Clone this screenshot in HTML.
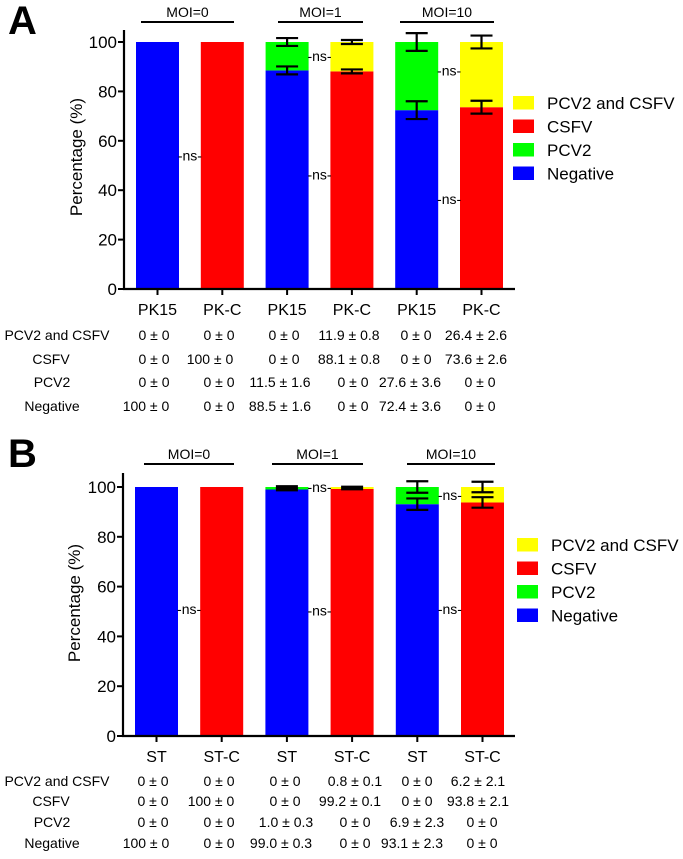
<!DOCTYPE html>
<html><head><meta charset="utf-8"><style>
body{margin:0;background:#fff;}
svg text{font-family:"Liberation Sans",Arial,sans-serif;fill:#000;}
</style></head><body>
<svg id="fig" width="683" height="854" viewBox="0 0 683 854" xmlns="http://www.w3.org/2000/svg"></svg>
<script>
// ---- Data ----
const seriesNames = ["Negative","PCV2","CSFV","PCV2 and CSFV"];
const seriesColors = ["#0000ff","#00ff00","#ff0000","#ffff00"];
const yTicks = [0,20,40,60,80,100];
const catsA = ["PK15","PK-C","PK15","PK-C","PK15","PK-C"];
const negA  = [100,0,88.5,0,72.4,0];
const negSdA= [0,0,1.6,0,3.6,0];
const pcvA  = [0,0,11.5,0,27.6,0];
const pcvSdA= [0,0,1.6,0,3.6,0];
const csfA  = [0,100,0,88.1,0,73.6];
const csfSdA= [0,0,0,0.8,0,2.6];
const bothA = [0,0,0,11.9,0,26.4];
const bothSdA=[0,0,0,0.8,0,2.6];
const nsA   = [53.6,46,94,36,88];
const nsGapA= [0,2,2,4,4];

const catsB = ["ST","ST-C","ST","ST-C","ST","ST-C"];
const negB  = [100,0,99.0,0,93.1,0];
const negSdB= [0,0,0.3,0,2.3,0];
const pcvB  = [0,0,1.0,0,6.9,0];
const pcvSdB= [0,0,0.3,0,2.3,0];
const csfB  = [0,100,0,99.2,0,93.8];
const csfSdB= [0,0,0,0.1,0,2.1];
const bothB = [0,0,0,0.8,0,6.2];
const bothSdB=[0,0,0,0.1,0,2.1];
const nsB   = [50.6,50,99.6,50.6,96.4];
const nsGapB= [0,2,2,4,4];

const tableRows = ["PCV2 and CSFV","CSFV","PCV2","Negative"];
const tableA = [["0 ± 0","0 ± 0","0 ± 0","11.9 ± 0.8","0 ± 0","26.4 ± 2.6"],
                ["0 ± 0","100 ± 0","0 ± 0","88.1 ± 0.8","0 ± 0","73.6 ± 2.6"],
                ["0 ± 0","0 ± 0","11.5 ± 1.6","0 ± 0","27.6 ± 3.6","0 ± 0"],
                ["100 ± 0","0 ± 0","88.5 ± 1.6","0 ± 0","72.4 ± 3.6","0 ± 0"]];
const tableB = [["0 ± 0","0 ± 0","0 ± 0","0.8 ± 0.1","0 ± 0","6.2 ± 2.1"],
                ["0 ± 0","100 ± 0","0 ± 0","99.2 ± 0.1","0 ± 0","93.8 ± 2.1"],
                ["0 ± 0","0 ± 0","1.0 ± 0.3","0 ± 0","6.9 ± 2.3","0 ± 0"],
                ["100 ± 0","0 ± 0","99.0 ± 0.3","0 ± 0","93.1 ± 2.3","0 ± 0"]];
const moiLabels = ["MOI=0","MOI=1","MOI=10"];

// ---- Drawing ----
const NS="http://www.w3.org/2000/svg";
const svg=document.getElementById('fig');
function el(tag,attrs,parent,text){const e=document.createElementNS(NS,tag);for(const k in attrs)e.setAttribute(k,attrs[k]);if(text!==undefined)e.textContent=text;(parent||svg).appendChild(e);return e;}

function panel(cfg){
  const g=el('g',{});
  
  
  const y=v=>cfg.y0-(v/100)*(cfg.y0-cfg.y100);
  const xc=i=>cfg.x0+cfg.pitch*i;
  const bw=43;
  const L=el('text',{x:cfg.letterX,y:cfg.letterY,'font-size':40,'font-weight':'bold'},g,cfg.letter);
  
  
  cfg.moi.forEach((m,i)=>{
    const ln=el('line',{x1:m[0],x2:m[1],y1:cfg.moiY,y2:cfg.moiY,stroke:'#000','stroke-width':2},g);
    
    
    const t=el('text',{x:(m[0]+m[1])/2,y:cfg.moiY-5,'font-size':14,'text-anchor':'middle'},g,moiLabels[i]);
    
    
  });
  const segs=[cfg.neg,cfg.pcv,cfg.csf,cfg.both];
  const sds=[cfg.negSd,cfg.pcvSd,cfg.csfSd,cfg.bothSd];
  for(let i=0;i<6;i++){
    let cum=0;
    segs.forEach((s,k)=>{
      if(s[i]<=0)return;
      const r=el('rect',{x:xc(i)-bw/2,y:y(cum+s[i]),width:bw,height:y(cum)-y(cum+s[i]),fill:seriesColors[k]},g);
      
      
      cum+=s[i];
    });
    cum=0;
    segs.forEach((s,k)=>{
      if(s[i]<=0)return;
      cum+=s[i];
      const sd=sds[k][i];
      if(sd>0){
        const eb=el('path',{d:`M${xc(i)},${y(cum-sd)}V${y(cum+sd)}M${xc(i)-11},${y(cum-sd)}H${xc(i)+11}M${xc(i)-11},${y(cum+sd)}H${xc(i)+11}`,stroke:'#000','stroke-width':2.2,fill:'none'},g);
        
        
      }
    });
  }
  cfg.ns.forEach((v,j)=>{
    const gx=xc(cfg.nsGap[j])+cfg.pitch/2;
    const t=el('text',{x:gx,y:y(v)+4,'font-size':14,'text-anchor':'middle'},g,'-ns-');
    
    
  });
  const ax=el('path',{d:`M${cfg.ax},${cfg.axTop}V${cfg.y0}H${cfg.axEnd}`,stroke:'#000','stroke-width':2.2,fill:'none'},g);
  
  
  yTicks.forEach(v=>{
    const tk=el('line',{x1:cfg.ax-6,x2:cfg.ax,y1:y(v),y2:y(v),stroke:'#000','stroke-width':2},g);
    
    
    const t=el('text',{x:cfg.ax-7,y:y(v)+6,'font-size':17,'text-anchor':'end'},g,String(v));
    
    
  });
  cfg.cats.forEach((c,i)=>{
    const tk=el('line',{x1:xc(i),x2:xc(i),y1:cfg.y0,y2:cfg.y0+6,stroke:'#000','stroke-width':2},g);
    
    
    const t=el('text',{x:xc(i),y:cfg.y0+26,'font-size':16,'text-anchor':'middle'},g,c);
    
    
  });
  const yl=el('text',{x:0,y:0,'font-size':17,'text-anchor':'middle',transform:`translate(${cfg.ylX},${cfg.ylY}) rotate(-90)`},g,'Percentage (%)');
  
  
  [3,2,1,0].forEach((k,j)=>{
    const ly=cfg.legY+j*23.5;
    const r=el('rect',{x:cfg.legX,y:ly,width:21,height:13.5,fill:seriesColors[k]},g);
    
    
    const t=el('text',{x:cfg.legX+34,y:ly+13,'font-size':17},g,seriesNames[k]);
    
    
  });
  const labX=[57,51,52,52];
  tableRows.forEach((rn,r)=>{
    const ry=cfg.tabY[r];
    const t=el('text',{x:labX[r],y:ry+5,'font-size':14,'text-anchor':'middle'},g,rn);
    
    
    cfg.table[r].forEach((v,c)=>{
      const tc=el('text',{x:cfg.tabX[r][c],y:ry+5,'font-size':14,'text-anchor':'middle'},g,v);
      
      
    });
  });
}

panel({name:'panel-a',letter:'A',letterX:8,letterY:34,y0:289,y100:42,x0:157.5,pitch:64.8,ax:124,axTop:30,axEnd:515,
  moi:[[141,234],[278,363],[400,494]],moiY:22,
  neg:negA,negSd:negSdA,pcv:pcvA,pcvSd:pcvSdA,csf:csfA,csfSd:csfSdA,both:bothA,bothSd:bothSdA,ns:nsA,nsGap:nsGapA,cats:catsA,
  ylX:82,ylY:157,legX:513,legY:96,table:tableA,tabY:[335,359,382,406],
  tabX:[[154,219,284,349,416,476],[154,210,284,349,416,476],[154,219,280,353,410,480],[146,219,280,353,410,480]]});
panel({name:'panel-b',letter:'B',letterX:8,letterY:467,y0:736,y100:487,x0:156.5,pitch:65.2,ax:123,axTop:473,axEnd:515,
  moi:[[144,234],[272,363],[407,495]],moiY:464,
  neg:negB,negSd:negSdB,pcv:pcvB,pcvSd:pcvSdB,csf:csfB,csfSd:csfSdB,both:bothB,bothSd:bothSdB,ns:nsB,nsGap:nsGapB,cats:catsB,
  ylX:80,ylY:603,legX:517,legY:538,table:tableB,tabY:[781,801,822,843],
  tabX:[[153,219,285,355,417,478],[153,211,285,350,417,478],[153,219,286,355,417,482],[146,219,281,355,412,482]]});
</script>
</body></html>
